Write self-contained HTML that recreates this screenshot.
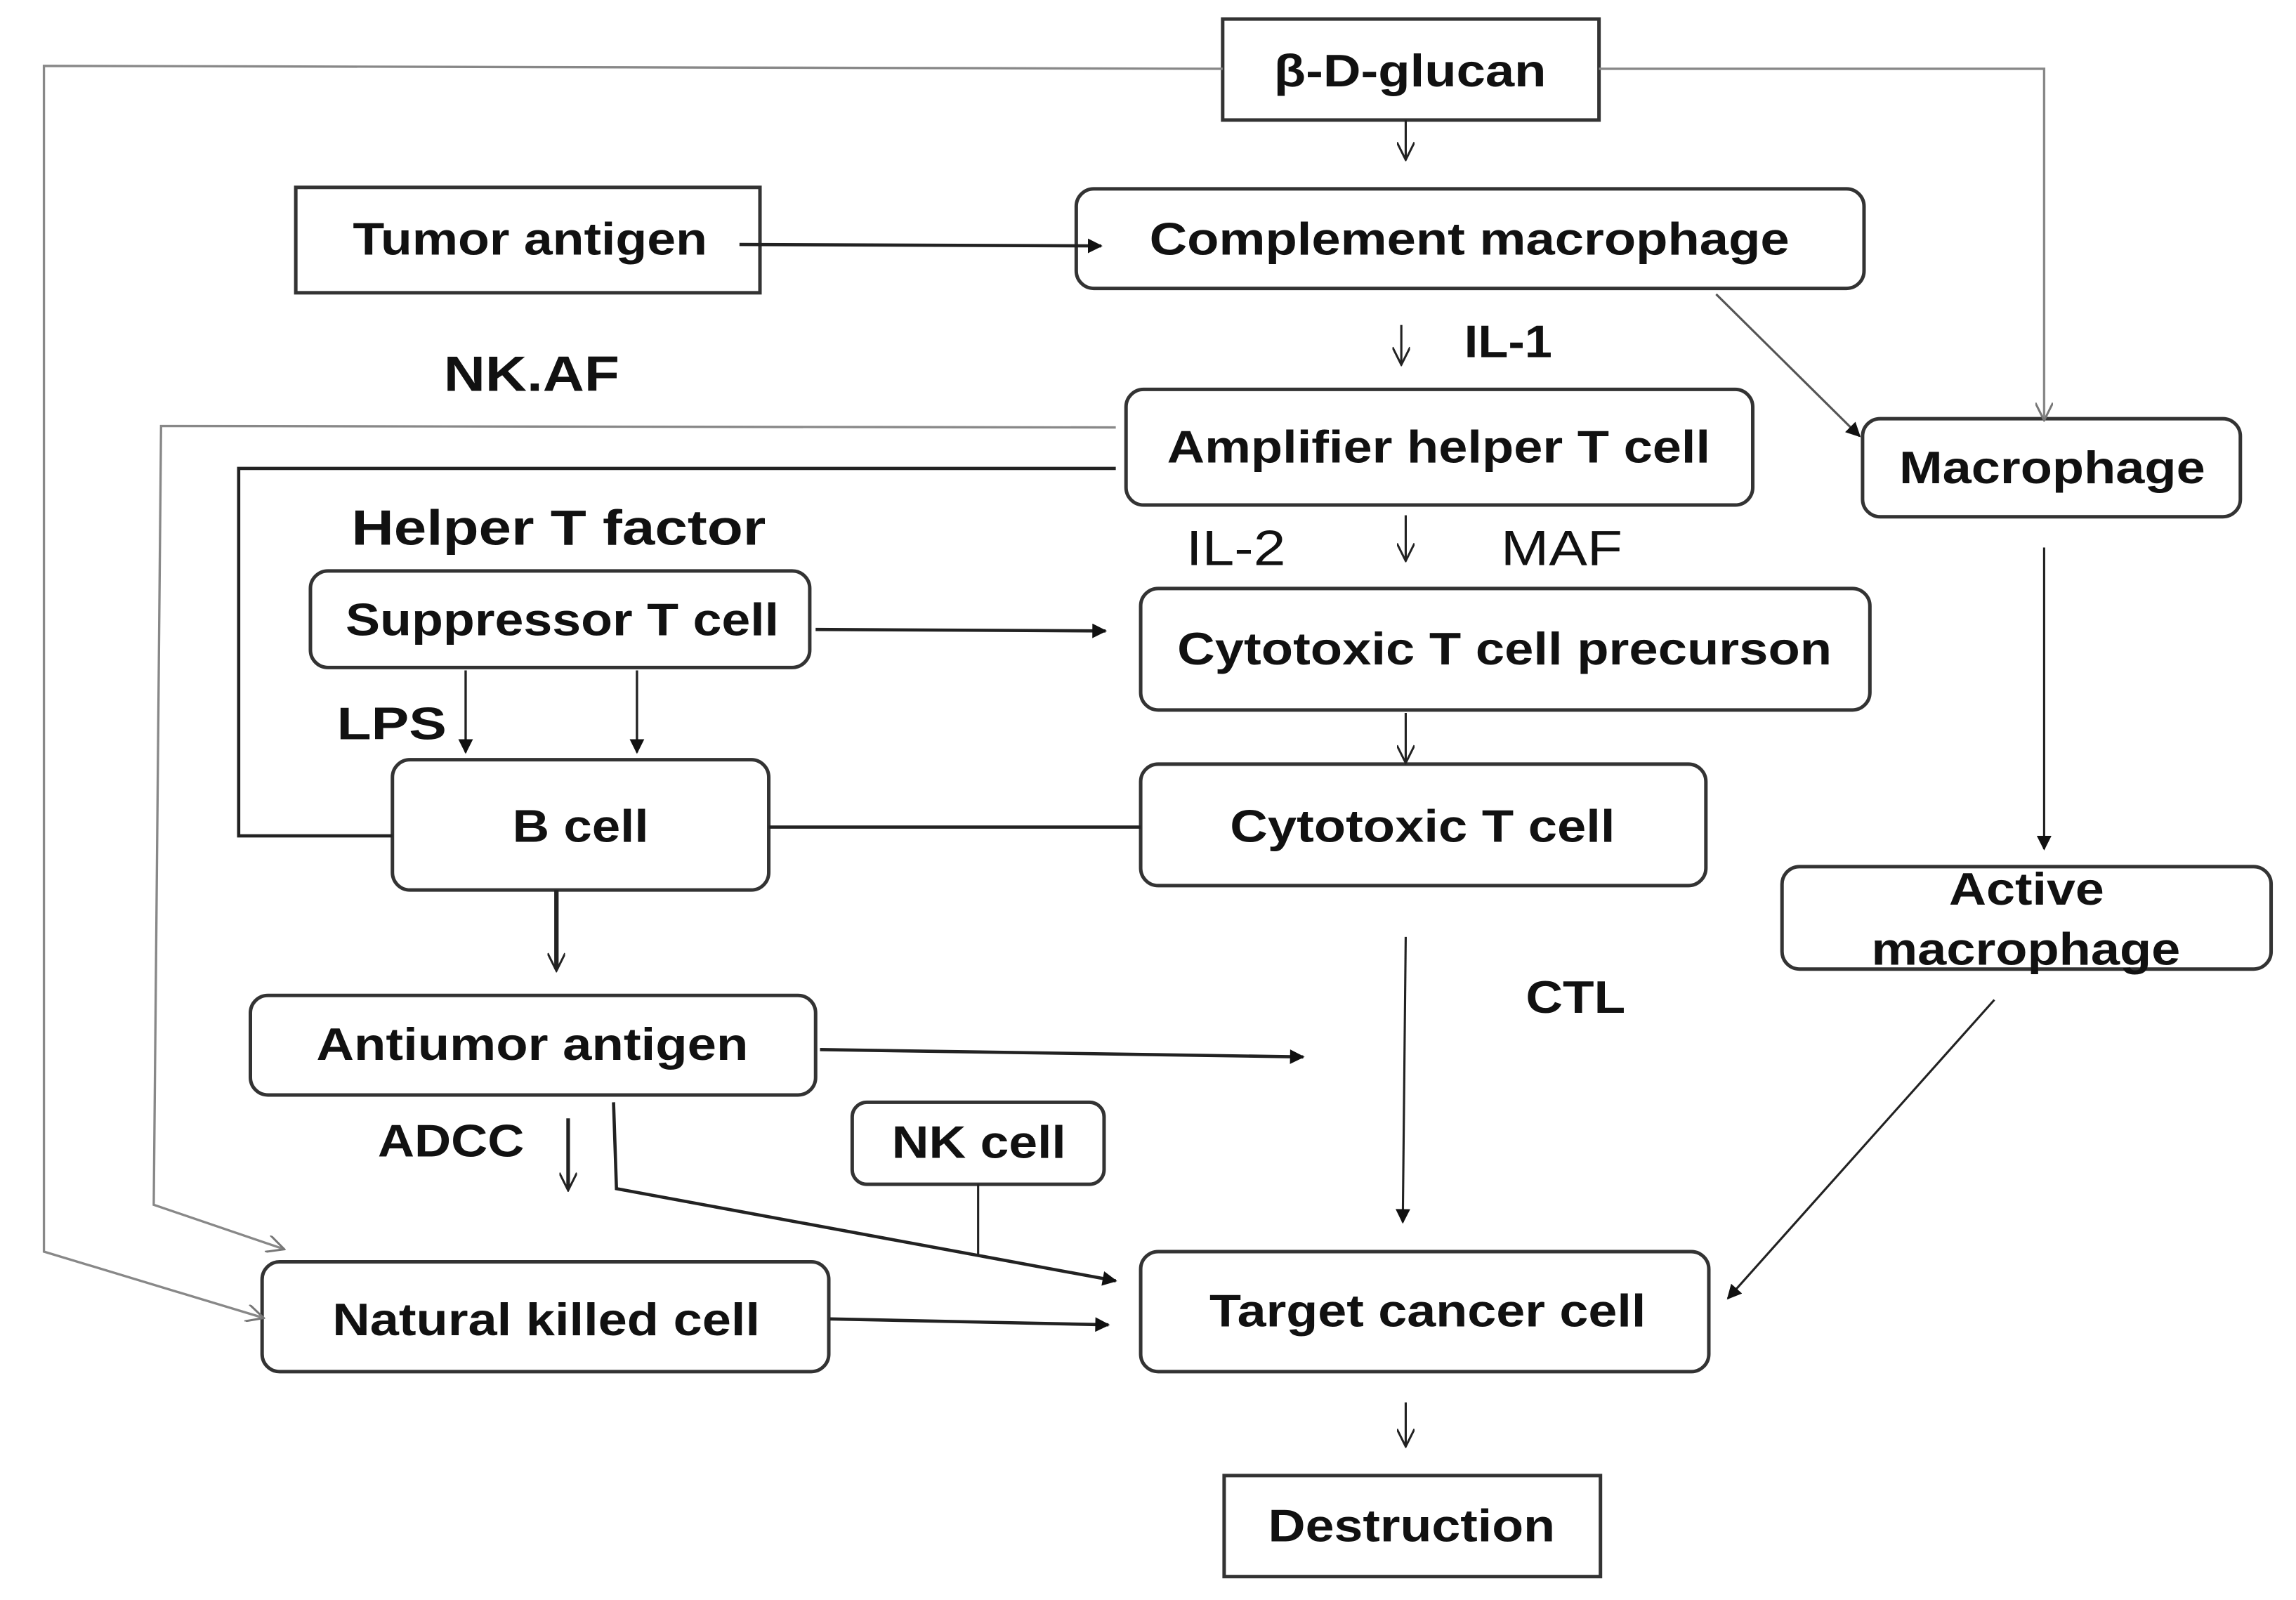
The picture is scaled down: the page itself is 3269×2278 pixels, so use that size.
<!DOCTYPE html>
<html><head><meta charset="utf-8">
<style>
html,body{margin:0;padding:0;background:#fff;}
svg{display:block;}
text{font-family:"Liberation Sans",Arial,sans-serif;font-weight:bold;fill:#111;}
</style></head>
<body>
<svg width="3269" height="2278" viewBox="0 0 1568 1093" preserveAspectRatio="none" xmlns="http://www.w3.org/2000/svg">
<defs>
<marker id="a" viewBox="0 0 10 10" refX="9" refY="5" markerWidth="5" markerHeight="5" orient="auto" markerUnits="userSpaceOnUse"><path d="M0,0 L10,5 L0,10 z" fill="#111"/></marker>
<marker id="ab" viewBox="0 0 10 10" refX="9" refY="5" markerWidth="12" markerHeight="10" orient="auto" markerUnits="userSpaceOnUse"><path d="M0,0 L10,5 L0,10 z" fill="#111"/></marker>
<marker id="ag" viewBox="0 0 10 10" refX="9" refY="5" markerWidth="14" markerHeight="12" orient="auto" markerUnits="userSpaceOnUse"><path d="M0,0 L10,5 L0,10" fill="none" stroke="#777" stroke-width="1.2"/></marker>
<marker id="al" viewBox="0 0 10 10" refX="9" refY="5" markerWidth="14" markerHeight="12" orient="auto" markerUnits="userSpaceOnUse"><path d="M0,0 L10,5 L0,10" fill="none" stroke="#222" stroke-width="1.2"/></marker>
</defs>

<g fill="#fff" stroke="#333" stroke-width="2.4">
<rect x="835" y="13" width="257" height="69"/>
<rect x="202" y="128" width="317" height="72"/>
<rect x="735" y="129" width="538" height="68" rx="12"/>
<rect x="769" y="266" width="428" height="79" rx="12"/>
<rect x="1272" y="286" width="258" height="67" rx="12"/>
<rect x="212" y="390" width="341" height="66" rx="12"/>
<rect x="779" y="402" width="498" height="83" rx="12"/>
<rect x="268" y="519" width="257" height="89" rx="12"/>
<rect x="779" y="522" width="386" height="83" rx="12"/>
<rect x="1217" y="592" width="334" height="70" rx="12"/>
<rect x="171" y="680" width="386" height="68" rx="12"/>
<rect x="582" y="753" width="172" height="56" rx="10"/>
<rect x="179" y="862" width="387" height="75" rx="12"/>
<rect x="779" y="855" width="388" height="82" rx="12"/>
<rect x="836" y="1008" width="257" height="69"/>
</g>

<g fill="none" stroke="#888" stroke-width="1.6">
<polyline points="835,47 30,45 30,855 179,900" marker-end="url(#ag)"/>
<polyline points="1092,47 1396,47 1396,286" marker-end="url(#ag)"/>
<polyline points="762,292 110,291 105,823 193,853" marker-end="url(#ag)"/>
</g>
<g fill="none" stroke="#222" stroke-width="1.5">
<line x1="960" y1="82" x2="960" y2="108" marker-end="url(#al)"/>
<line x1="957" y1="222" x2="957" y2="248" marker-end="url(#al)"/>
<line x1="1172" y1="201" x2="1270" y2="298" stroke="#555" marker-end="url(#ab)"/>
<line x1="960" y1="352" x2="960" y2="382" marker-end="url(#al)"/>
<line x1="960" y1="487" x2="960" y2="520" marker-end="url(#al)"/>
<line x1="1396" y1="374" x2="1396" y2="580" marker-end="url(#ab)"/>
<line x1="960" y1="640" x2="958" y2="835" marker-end="url(#ab)"/>
<line x1="668" y1="809" x2="668" y2="857"/>
<line x1="1362" y1="683" x2="1180" y2="887" marker-end="url(#ab)"/>
<line x1="960" y1="958" x2="960" y2="987" marker-end="url(#al)"/>
</g>
<g fill="none" stroke="#222" stroke-width="2.2">
<line x1="505" y1="167" x2="752" y2="168" marker-end="url(#ab)"/>
<polyline points="762,320 163,320 163,571 268,571"/>
<line x1="557" y1="430" x2="755" y2="431" marker-end="url(#ab)"/>
<line x1="318" y1="458" x2="318" y2="514" stroke-width="1.6" marker-end="url(#ab)"/>
<line x1="435" y1="458" x2="435" y2="514" stroke-width="1.6" marker-end="url(#ab)"/>
<line x1="525" y1="565" x2="779" y2="565"/>
<line x1="380" y1="608" x2="380" y2="662" stroke-width="3" marker-end="url(#al)"/>
<line x1="560" y1="717" x2="890" y2="722" marker-end="url(#ab)"/>
<line x1="388" y1="764" x2="388" y2="812" stroke-width="2.5" marker-end="url(#al)"/>
<polyline points="419,753 421,812 762,875" marker-end="url(#ab)"/>
<line x1="567" y1="901" x2="757" y2="905" marker-end="url(#ab)"/>
</g>

<g font-size="31">
<text x="870" y="59" textLength="186" lengthAdjust="spacingAndGlyphs">β-D-glucan</text>
<text x="241" y="174" textLength="242" lengthAdjust="spacingAndGlyphs">Tumor antigen</text>
<text x="785" y="174" textLength="437" lengthAdjust="spacingAndGlyphs">Complement macrophage</text>
<text x="797" y="316" textLength="371" lengthAdjust="spacingAndGlyphs">Amplifier helper T cell</text>
<text x="1297" y="330" textLength="209" lengthAdjust="spacingAndGlyphs">Macrophage</text>
<text x="236" y="434" textLength="296" lengthAdjust="spacingAndGlyphs">Suppressor T cell</text>
<text x="804" y="454" textLength="447" lengthAdjust="spacingAndGlyphs">Cytotoxic T cell precurson</text>
<text x="350" y="575" textLength="93" lengthAdjust="spacingAndGlyphs">B cell</text>
<text x="840" y="575" textLength="263" lengthAdjust="spacingAndGlyphs">Cytotoxic T cell</text>
<text x="1331" y="618" textLength="106" lengthAdjust="spacingAndGlyphs">Active</text>
<text x="1278" y="659" textLength="211" lengthAdjust="spacingAndGlyphs">macrophage</text>
<text x="216" y="724" textLength="295" lengthAdjust="spacingAndGlyphs">Antiumor antigen</text>
<text x="609" y="791" textLength="119" lengthAdjust="spacingAndGlyphs">NK cell</text>
<text x="227" y="912" textLength="292" lengthAdjust="spacingAndGlyphs">Natural killed cell</text>
<text x="826" y="906" textLength="298" lengthAdjust="spacingAndGlyphs">Target cancer cell</text>
<text x="866" y="1053" textLength="196" lengthAdjust="spacingAndGlyphs">Destruction</text>

<text x="303" y="267" font-size="34" textLength="120" lengthAdjust="spacingAndGlyphs">NK.AF</text>
<text x="1000" y="244" textLength="60" lengthAdjust="spacingAndGlyphs">IL-1</text>
<text x="240" y="372" font-size="34" textLength="283" lengthAdjust="spacingAndGlyphs">Helper T factor</text>
<text x="810" y="386" style="font-weight:normal" font-size="34" textLength="68" lengthAdjust="spacingAndGlyphs">IL-2</text>
<text x="1025" y="386" style="font-weight:normal" font-size="34" textLength="83" lengthAdjust="spacingAndGlyphs">MAF</text>
<text x="230" y="505" textLength="75" lengthAdjust="spacingAndGlyphs">LPS</text>
<text x="1042" y="692" textLength="68" lengthAdjust="spacingAndGlyphs">CTL</text>
<text x="258" y="790" textLength="100" lengthAdjust="spacingAndGlyphs">ADCC</text>
</g>
</svg>
</body></html>
